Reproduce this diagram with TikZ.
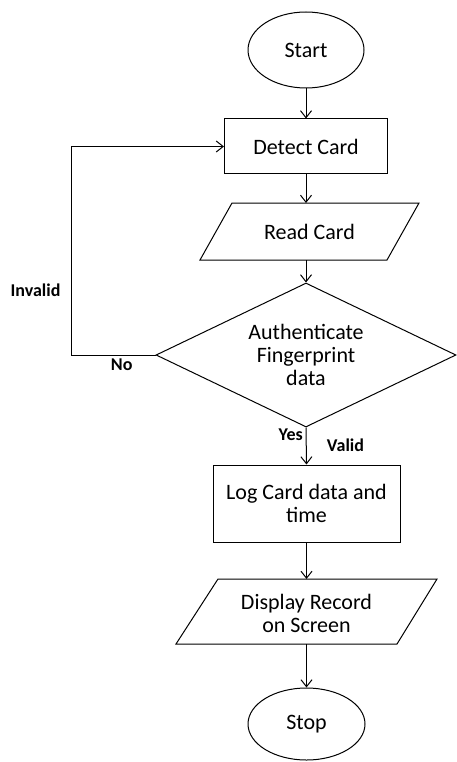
\documentclass[tikz,border=0pt]{standalone}
\usepackage{fontspec}
\setmainfont{Carlito}
\usetikzlibrary{shapes.geometric,arrows.meta}
\begin{document}
\begin{tikzpicture}[x=1pt,y=-1pt,line width=1pt,
  >={Straight Barb[length=7pt,width=11pt]},
  base/.style={draw,inner sep=0pt,font=\fontsize{22}{23}\selectfont,align=center},
  txt/.style={inner sep=0pt,font=\fontsize{22}{23}\selectfont,align=center},
  lbl/.style={inner sep=0pt,anchor=base,font=\fontsize{18}{19}\selectfont\bfseries}]
\useasboundingbox (0,0) rectangle (457,762);
\node[base,ellipse,minimum width=116pt,minimum height=76pt] (start) at (306,50) {Start};
\node[base,rectangle,minimum width=163pt,minimum height=55pt] (detect) at (306,146.5) {Detect Card};
% Read Card parallelogram
\draw (232,203) -- (419,203) -- (387,260) -- (200,260) -- cycle;
\node[txt] (read) at (309.5,231.5) {Read Card};
\coordinate (readT) at (306,203);
\coordinate (readB) at (306,260);
\node[base,diamond,shape aspect=2.1,minimum width=300pt,minimum height=144pt] (auth) at (306,355) {Authenticate\\Fingerprint\\data};
\node[base,rectangle,minimum width=187pt,minimum height=77pt] (log) at (306.5,503.5) {Log Card data and\\time};
% Display parallelogram
\draw (218,579) -- (437,579) -- (397,644) -- (176,644) -- cycle;
\node[txt] (disp) at (306.5,613) {Display Record\\on Screen};
\coordinate (dispT) at (306.5,579);
\coordinate (dispB) at (306.5,644);
\node[base,ellipse,minimum width=117pt,minimum height=72pt] (stop) at (306.5,724) {Stop};
% connectors
\draw[->] (start) -- (detect);
\draw[->] (detect) -- (readT);
\draw[->] (readB) -- (auth.north);
\coordinate (loop) at (71,355);
\draw[->] (auth.west) -- (loop) |- (detect.west);
\draw[->] (auth.south) -- (log.north);
\draw[->] (log) -- (dispT);
\draw[->] (dispB) -- (stop);
% labels
\node[lbl] (inv) at (35.5,296.7) {Invalid};
\node[lbl] (no) at (121.7,370) {No};
\node[lbl] (yes) at (290.8,440) {Yes};
\node[lbl] (valid) at (345.5,451.7) {Valid};
\end{tikzpicture}
\end{document}
